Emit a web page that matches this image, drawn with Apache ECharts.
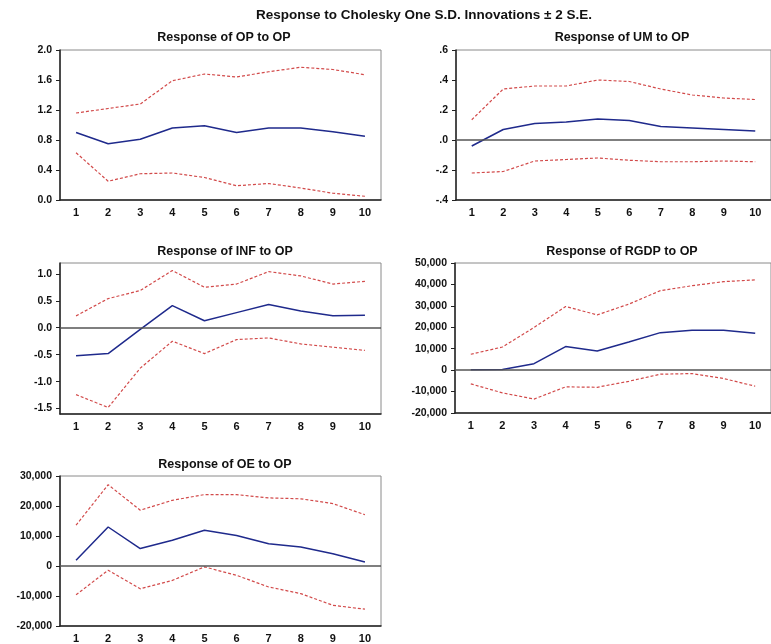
<!DOCTYPE html>
<html>
<head>
<meta charset="utf-8">
<script src="https://cdn.jsdelivr.net/npm/echarts@6/dist/echarts.min.js"></script>
<style>
  html, body { margin: 0; padding: 0; background: #fff; }
  #chart { width: 771px; height: 644px; }
</style>
</head>
<body>
<div id="chart"></div>
<script>
// periods after the shock
const periods = ['1', '2', '3', '4', '5', '6', '7', '8', '9', '10'];

// Response of OP to OP
const opMean  = [0.90, 0.75, 0.81, 0.96, 0.99, 0.90, 0.96, 0.96, 0.91, 0.85];
const opUpper = [1.16, 1.22, 1.28, 1.59, 1.68, 1.64, 1.71, 1.77, 1.74, 1.67];
const opLower = [0.63, 0.25, 0.35, 0.36, 0.30, 0.19, 0.22, 0.16, 0.09, 0.05];

// Response of UM to OP
const umMean  = [-0.04, 0.07, 0.11, 0.12, 0.14, 0.13, 0.09, 0.08, 0.07, 0.06];
const umUpper = [0.135, 0.34, 0.36, 0.36, 0.40, 0.39, 0.34, 0.30, 0.28, 0.27];
const umLower = [-0.22, -0.21, -0.14, -0.13, -0.12, -0.135, -0.145, -0.145, -0.14, -0.145];

// Response of INF to OP
const infMean  = [-0.52, -0.48, -0.03, 0.41, 0.13, 0.28, 0.43, 0.31, 0.22, 0.23];
const infUpper = [0.22, 0.54, 0.69, 1.06, 0.75, 0.81, 1.04, 0.96, 0.81, 0.86];
const infLower = [-1.24, -1.48, -0.75, -0.25, -0.48, -0.22, -0.19, -0.30, -0.36, -0.42];
const infTicks = [-1.5, -1.0, -0.5, 0.0, 0.5, 1.0];

// Response of RGDP to OP
const rgdpMean  = [200, 300, 3000, 11000, 8900, 13100, 17500, 18600, 18600, 17200];
const rgdpUpper = [7400, 10800, 19900, 29700, 25800, 30800, 37100, 39400, 41300, 42100];
const rgdpLower = [-6400, -10600, -13500, -7800, -8000, -5200, -1900, -1600, -3900, -7500];

// Response of OE to OP
const oeMean  = [1900, 13000, 5800, 8600, 11900, 10200, 7400, 6300, 4100, 1300];
const oeUpper = [13600, 27100, 18600, 21900, 23800, 23800, 22700, 22400, 20800, 17100];
const oeLower = [-9600, -1400, -7600, -4800, -300, -3100, -7000, -9200, -13100, -14400];

const FONT = 'Liberation Sans';
const panels = [
  { title: 'Response of OP to OP', left: 60, top: 50, width: 321, height: 150, tx: 219, ty: 26,
    mean: opMean, upper: opUpper, lower: opLower, min: 0, max: 2, interval: 0.4, fmt: 'dec', zero: false },
  { title: 'Response of UM to OP', left: 456, top: 50, width: 322, height: 150, tx: 617, ty: 26,
    mean: umMean, upper: umUpper, lower: umLower, min: -0.4, max: 0.6, interval: 0.2, fmt: 'nolead', zero: true },
  { title: 'Response of INF to OP', left: 60, top: 263, width: 321, height: 151, tx: 220, ty: 240,
    mean: infMean, upper: infUpper, lower: infLower, min: -1.6, max: 1.2, custom: infTicks, fmt: 'dec', zero: true },
  { title: 'Response of RGDP to OP', left: 455, top: 263, width: 321, height: 150, tx: 617, ty: 240,
    mean: rgdpMean, upper: rgdpUpper, lower: rgdpLower, min: -20000, max: 50000, interval: 10000, fmt: 'thou', zero: true },
  { title: 'Response of OE to OP', left: 60, top: 476, width: 321, height: 151, tx: 220, ty: 453,
    mean: oeMean, upper: oeUpper, lower: oeLower, min: -20000, max: 30000, interval: 10000, fmt: 'thou', zero: true }
];

function fmtLabel(kind) {
  return function (v) {
    if (kind === 'thou') return Math.round(v).toLocaleString('en-US');
    let s = (Math.abs(v) < 1e-9 ? 0 : v).toFixed(1);
    if (kind === 'nolead') s = s.replace(/^(-?)0\./, '$1.');
    return s;
  };
}

const myChart = echarts.init(document.getElementById('chart'));

const titles = [{
  text: 'Response to Cholesky One S.D. Innovations \u00b1 2 S.E.',
  left: 419, top: 3, textAlign: 'center',
  textStyle: { fontFamily: FONT, fontSize: 13.5, fontWeight: 'bold', color: '#111' }
}];
const grids = [], xAxes = [], yAxes = [], series = [];

panels.forEach(function (p, i) {
  titles.push({
    text: p.title, left: p.tx, top: p.ty, textAlign: 'center',
    textStyle: { fontFamily: FONT, fontSize: 12.5, fontWeight: 'bold', color: '#111' }
  });
  grids.push({ left: p.left, top: p.top, width: p.width, height: p.height,
    show: true, borderColor: '#8a8a8a', borderWidth: 1, backgroundColor: '#fff' });
  xAxes.push({
    type: 'category', gridIndex: i, data: periods, boundaryGap: true,
    axisLine: { onZero: false, lineStyle: { color: '#222', width: 1.5 } },
    axisTick: { inside: true, length: 4, lineStyle: { color: '#222' } },
    axisLabel: { margin: 7, fontFamily: FONT, fontSize: 11, fontWeight: 'bold', color: '#111' },
    splitLine: { show: false }
  });
  const y = {
    type: 'value', gridIndex: i, min: p.min, max: p.max,
    axisLine: { show: true, lineStyle: { color: '#222', width: 1.5 } },
    axisTick: { show: true, length: 4, lineStyle: { color: '#222' } },
    axisLabel: { margin: 8, fontFamily: FONT, fontSize: 10.5, fontWeight: 'bold', color: '#111',
      formatter: fmtLabel(p.fmt), showMinLabel: true, showMaxLabel: true },
    splitLine: { show: false }
  };
  if (p.custom) {
    y.axisLabel.customValues = p.custom;
    y.axisTick.customValues = p.custom;
  } else {
    y.interval = p.interval;
  }
  yAxes.push(y);

  const mean = {
    type: 'line', xAxisIndex: i, yAxisIndex: i, data: p.mean, symbol: 'none',
    lineStyle: { color: '#1f2a8c', width: 1.5 }, z: 3
  };
  if (p.zero) {
    mean.markLine = {
      silent: true, symbol: 'none', label: { show: false },
      lineStyle: { color: '#555', width: 1.5, type: 'solid' },
      data: [{ yAxis: 0 }]
    };
  }
  series.push(mean);
  [p.upper, p.lower].forEach(function (band) {
    series.push({
      type: 'line', xAxisIndex: i, yAxisIndex: i, data: band, symbol: 'none',
      lineStyle: { color: '#d24a4a', width: 1.2, type: [3, 2] }, z: 2
    });
  });
});

const options = {
  animation: false,
  backgroundColor: '#fff',
  title: titles,
  grid: grids,
  xAxis: xAxes,
  yAxis: yAxes,
  series: series
};
myChart.setOption(options);
</script>
</body>
</html>
